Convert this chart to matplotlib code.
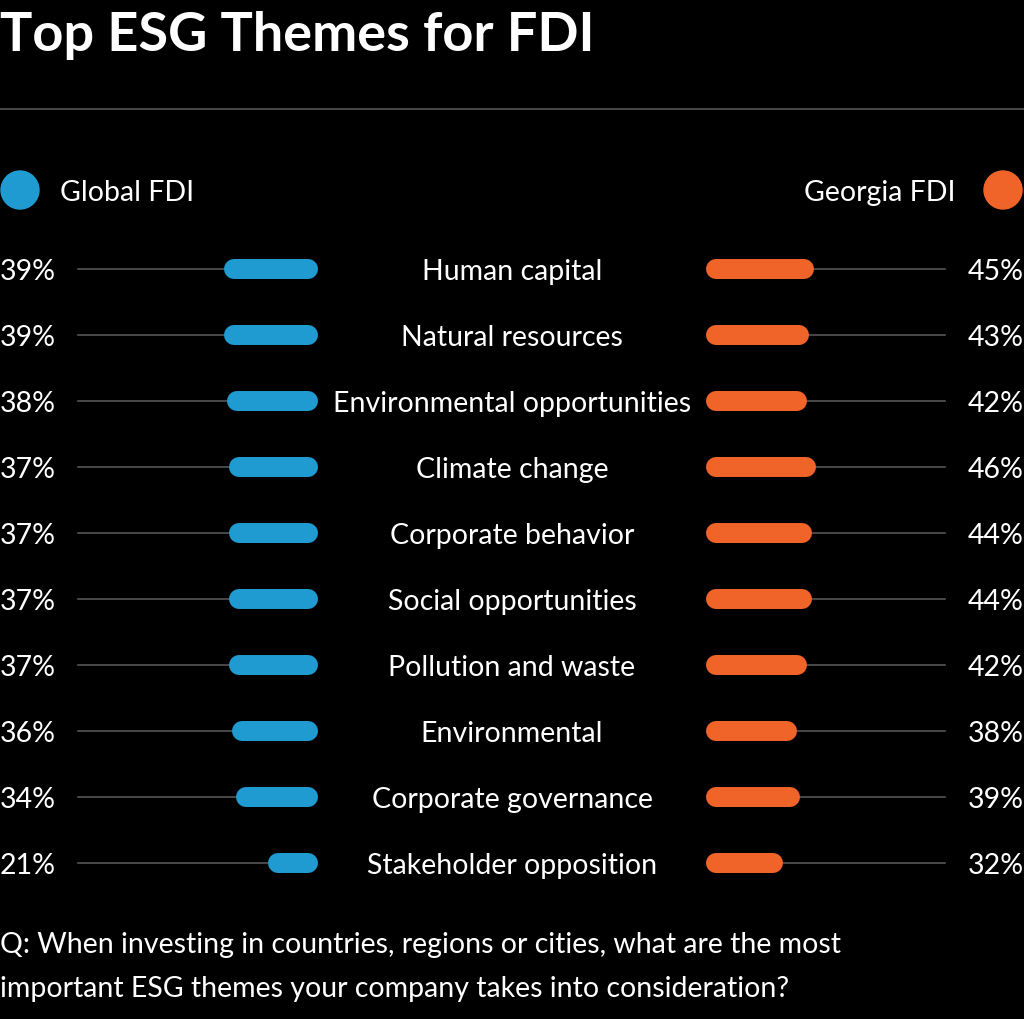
import matplotlib; matplotlib.use("Agg")
import matplotlib.pyplot as plt
from matplotlib.patches import Circle

themes = ["Human capital", "Natural resources", "Environmental opportunities", "Climate change",
          "Corporate behavior", "Social opportunities", "Pollution and waste", "Environmental",
          "Corporate governance", "Stakeholder opposition"]
global_fdi = [39, 39, 38, 37, 37, 37, 37, 36, 34, 21]
georgia_fdi = [45, 43, 42, 46, 44, 44, 42, 38, 39, 32]

BLUE, ORANGE, GREY = "#1f9bd1", "#f0642a", "#555555"
PX = 2.4          # pixels per percent
LW = 20 * 72 / 100  # bar thickness in points
FS = 20.5

fig = plt.figure(figsize=(10.24, 10.2), dpi=100, facecolor="black")
ax = fig.add_axes([0, 0, 1, 1]); ax.set_facecolor("black")
ax.set_xlim(0, 1024); ax.set_ylim(1020, 0); ax.axis("off")
plt.rcParams["font.family"] = ["Lato", "DejaVu Sans"]

ax.text(0, 35, "Top ESG Themes for FDI", color="white", fontsize=39, fontweight="bold", va="center")
ax.plot([0, 1024], [110, 110], color=GREY, lw=1.2)

ax.add_patch(Circle((20, 191), 19, color=BLUE))
ax.text(60, 193, "Global FDI", color="white", fontsize=FS, va="center")
ax.add_patch(Circle((1003, 191), 19, color=ORANGE))
ax.text(955, 193, "Georgia FDI", color="white", fontsize=FS, va="center", ha="right")

for i, (t, g, o) in enumerate(zip(themes, global_fdi, georgia_fdi)):
    y = 270 + 66 * i
    gx0 = 318 - g * PX
    ox1 = 706 + o * PX
    ax.plot([78, gx0 + 10], [y, y], color=GREY, lw=1.2, zorder=1)
    ax.plot([ox1 - 10, 945], [y, y], color=GREY, lw=1.2, zorder=1)
    ax.plot([gx0 + 10, 308], [y, y], color=BLUE, lw=LW, solid_capstyle="round", zorder=2)
    ax.plot([716, ox1 - 10], [y, y], color=ORANGE, lw=LW, solid_capstyle="round", zorder=2)
    ax.text(0, y + 2, f"{g}%", color="white", fontsize=FS, va="center")
    ax.text(1024, y + 2, f"{o}%", color="white", fontsize=FS, va="center", ha="right")
    ax.text(512, y + 2, t, color="white", fontsize=FS, va="center", ha="center")

ax.text(0, 945, "Q: When investing in countries, regions or cities, what are the most",
        color="white", fontsize=FS, va="center")
ax.text(0, 989, "important ESG themes your company takes into consideration?",
        color="white", fontsize=FS, va="center")

fig.savefig("out.png", dpi=100, facecolor="black")
